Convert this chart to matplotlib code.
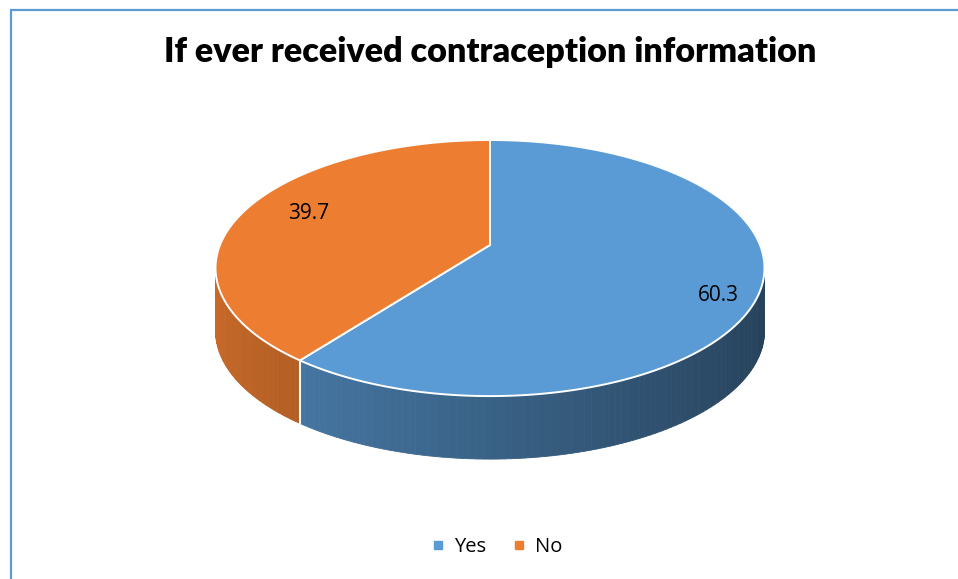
import numpy as np
import matplotlib
matplotlib.use("Agg")
import matplotlib.pyplot as plt
from matplotlib.patches import Polygon
from matplotlib.lines import Line2D
from matplotlib.colors import to_rgb

title = "If ever received contraception information"
categories = ["Yes", "No"]
values = [60.3, 39.7]
colors = ["#5B9BD5", "#ED7D31"]

# page layout in pixels
W, H = 958, 579
CX, CY = 490, 245        # pie centre on the top face
RX, RY = 270.0, 123.9    # disc radii on the page
PERSP = 0.18             # foreshortening towards the back
DEPTH = 63               # height of the pie wall
label_radius = [0.85, 0.74]
label_dy = [15, -4]


def project(theta, r=1.0):
    """disc angle (clockwise from 12 o'clock) -> page pixels"""
    u = r * np.sin(theta)
    v = -r * np.cos(theta)
    w = 1 - PERSP * v
    return CX + RX * u / w, CY + RY * v / w


def shade(color, theta):
    # walls get darker as they turn to the right
    f = 0.63 - 0.21 * np.sin(theta)
    return tuple(np.clip(np.array(to_rgb(color)) * f, 0, 1))


fig = plt.figure(figsize=(W / 100, H / 100), dpi=100)
ax = fig.add_axes([0, 0, 1, 1])
ax.set_xlim(0, W)
ax.set_ylim(H, 0)
ax.axis("off")

fracs = np.array(values) / sum(values)
bounds = np.concatenate([[0], np.cumsum(fracs)]) * 2 * np.pi

# walls
for i, color in enumerate(colors):
    a0, a1 = bounds[i], bounds[i + 1]
    t = np.linspace(a0, a1, int(300 * fracs[i]) + 2)
    for t0, t1 in zip(t[:-1], t[1:]):
        tm = 0.5 * (t0 + t1)
        if np.cos(tm) > 0.25:
            continue
        x0, y0 = project(t0)
        x1, y1 = project(t1)
        c = shade(color, tm)
        ax.add_patch(Polygon([(x0, y0), (x1, y1), (x1, y1 + DEPTH), (x0, y0 + DEPTH)],
                             closed=True, facecolor=c, edgecolor=c, lw=0.6, zorder=2))

# white seams where slices meet on the front wall
for b in bounds[1:-1]:
    if -np.cos(b) > 0:
        x, y = project(b)
        ax.plot([x, x], [y, y + DEPTH], color="white", lw=1.5, zorder=3)

# top faces
for i, color in enumerate(colors):
    t = np.linspace(bounds[i], bounds[i + 1], 200)
    xs, ys = project(t)
    pts = [(CX, CY)] + list(zip(xs, ys))
    ax.add_patch(Polygon(pts, closed=True, facecolor=color, edgecolor="white",
                         lw=1.4, joinstyle="miter", zorder=4))

# value labels
for i, val in enumerate(values):
    mid = 0.5 * (bounds[i] + bounds[i + 1])
    x, y = project(mid, label_radius[i])
    ax.text(x, y + label_dy[i], f"{val:.1f}", ha="center", va="center",
            fontsize=15, family="Open Sans", color="black", zorder=5)

ax.text(CX, 52, title, ha="center", va="center", fontsize=24.6,
        fontweight="heavy", family=["Liberation Sans Narrow", "Lato"], color="black")

# chart area border (top and left edges)
ax.plot([10, W], [10, 10], color="#5B9BD5", lw=1.6, solid_capstyle="butt")
ax.plot([11, 11], [10, H], color="#5B9BD5", lw=1.6, solid_capstyle="butt")

handles = [Line2D([], [], marker="s", ls="", markersize=6, color=c) for c in colors]
ax.legend(handles, categories, loc="center", bbox_to_anchor=(0.519, 1 - 547 / H),
          ncol=2, frameon=False, handlelength=0.6, handletextpad=0.5,
          columnspacing=1.3, prop={"family": "Open Sans", "size": 14.5})

fig.savefig("out.png", dpi=100)
